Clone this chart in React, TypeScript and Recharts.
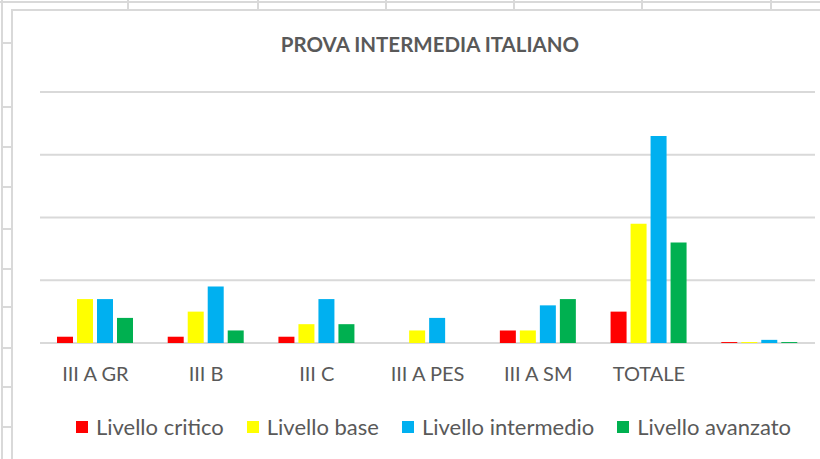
import { BarChart, Bar, XAxis, YAxis, CartesianGrid } from 'recharts';

const classes = ['III A GR', 'III B', 'III C', 'III A PES', 'III A SM', 'TOTALE', ''];
const critico = [1, 1, 1, 0, 2, 5, 0.15];
const base = [7, 5, 3, 2, 2, 19, 0.15];
const intermedio = [7, 9, 7, 4, 6, 33, 0.5];
const avanzato = [4, 2, 3, 0, 7, 16, 0.15];
const yTicks = [0, 10, 20, 30, 40];

const data = classes.map((name, i) => ({
  name,
  critico: critico[i],
  base: base[i],
  intermedio: intermedio[i],
  avanzato: avanzato[i],
}));

const SERIES = [
  { key: 'critico', label: 'Livello critico', color: '#FF0000' },
  { key: 'base', label: 'Livello base', color: '#FFFF00' },
  { key: 'intermedio', label: 'Livello intermedio', color: '#00B0F0' },
  { key: 'avanzato', label: 'Livello avanzato', color: '#00B050' },
];

const FONT = 'Lato, "Open Sans", sans-serif';
const TEXT = '#595959';
const SHEET = '#d9d9d9';

// spreadsheet cells peeking around the chart object
const colLines = [127, 257, 385, 513, 641, 770];
const rowLines = [42, 106, 146, 186, 228, 268, 306, 347, 386, 426];

function SheetBackground() {
  return (
    <>
      <div style={{ position: 'absolute', left: 0, top: 1, width: 820, height: 2, background: SHEET }} />
      <div style={{ position: 'absolute', left: 1, top: 0, width: 2, height: 459, background: SHEET }} />
      {colLines.map((x) => (
        <div key={x} style={{ position: 'absolute', left: x, top: 0, width: 2, height: 10, background: SHEET }} />
      ))}
      {rowLines.map((y) => (
        <div key={y} style={{ position: 'absolute', left: 1, top: y, width: 11, height: 2, background: SHEET }} />
      ))}
      <div style={{ position: 'absolute', left: 11, top: 9, width: 809, height: 2, background: SHEET }} />
      <div style={{ position: 'absolute', left: 11, top: 9, width: 2, height: 450, background: SHEET }} />
    </>
  );
}

function ChartLegend() {
  return (
    <div
      style={{
        position: 'absolute',
        top: 413,
        left: 0,
        width: 820,
        display: 'flex',
        justifyContent: 'center',
        gap: 23,
        paddingLeft: 47,
        boxSizing: 'border-box',
        fontFamily: FONT,
      }}
    >
      {SERIES.map((s) => (
        <div key={s.key} style={{ display: 'flex', alignItems: 'center', gap: 8 }}>
          <span style={{ width: 12, height: 12, background: s.color, display: 'inline-block' }} />
          <span style={{ fontSize: 22, color: TEXT }}>{s.label}</span>
        </div>
      ))}
    </div>
  );
}

export default function App() {
  return (
    <div style={{ position: 'absolute', left: 0, top: 0, width: 820, height: 459, background: '#fff', overflow: 'hidden' }}>
      <SheetBackground />
      <div
        style={{
          position: 'absolute',
          top: 32,
          left: 0,
          width: 860,
          textAlign: 'center',
          fontFamily: FONT,
          fontWeight: 700,
          fontSize: 20.5,
          color: TEXT,
        }}
      >
        PROVA INTERMEDIA ITALIANO
      </div>
      <div style={{ position: 'absolute', left: 0, top: 0 }}>
        <BarChart
          width={820}
          height={459}
          data={data}
          margin={{ top: 92, right: 5, left: 40, bottom: 66 }}
          barGap={4}
          barCategoryGap="15.5%"
        >
          <CartesianGrid horizontal vertical={false} stroke={SHEET} strokeWidth={2} />
          <YAxis hide domain={[0, 40]} ticks={yTicks} />
          <XAxis
            dataKey="name"
            axisLine={false}
            tickLine={false}
            interval={0}
            height={50}
            tickMargin={18}
            tick={{ fill: TEXT, fontSize: 20, fontFamily: FONT }}
          />
          {SERIES.map((s) => (
            <Bar
              key={s.key}
              dataKey={s.key}
              name={s.label}
              fill={s.color}
              barSize={16}
              isAnimationActive={false}
            />
          ))}
        </BarChart>
      </div>
      <ChartLegend />
    </div>
  );
}
